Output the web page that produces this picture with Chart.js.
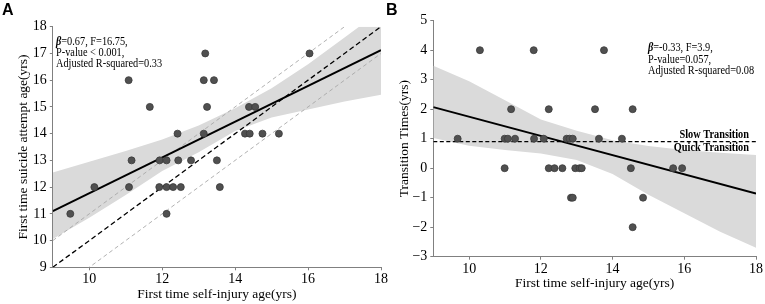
<!DOCTYPE html>
<html>
<head>
<meta charset="utf-8">
<script src="https://cdn.jsdelivr.net/npm/chart.js@4.4.0/dist/chart.umd.min.js"></script>
<style>
  body { margin: 0; background: #fff; width: 765px; height: 304px; overflow: hidden; position: relative; }
  canvas { position: absolute; top: 0; }
  #chartA { left: 0; }
  #chartB { left: 385px; }
</style>
</head>
<body>
<canvas id="chartA" width="390" height="304"></canvas>
<canvas id="chartB" width="380" height="304"></canvas>
<script>
// shared x ticks
const xTicks = [10, 12, 14, 16, 18];

// Panel A: first self-injury age vs first suicide attempt age
const injuryAgeA = [9.48, 10.14, 11.09, 11.08, 11.16, 11.66, 11.93, 11.92, 12.12, 12.12, 12.12, 12.3, 12.42, 12.44, 12.51,
                    12.79, 13.14, 13.14, 13.18, 13.23, 13.42, 13.5, 13.58, 14.27, 14.38, 14.4, 14.55, 14.75, 15.2, 16.04];
const attemptAgeA = [11, 12, 12, 16, 13, 15, 13, 12, 13, 12, 11, 12, 14, 13, 12,
                     13, 14, 16, 17, 15, 16, 13, 12, 14, 15, 14, 15, 14, 14, 17];
const fitXA = [9, 18];
const fitYA = [11.1, 17.12];
const refXA = [9, 18];
const refYA = [9, 18];       // y = x
const refUpperA = [10, 19];  // y = x + 1
const refLowerA = [8, 17];   // y = x - 1
const bandXA = [9, 10, 11, 12, 13, 14, 15, 16, 17, 18];
const bandUpperA = [12.55, 12.95, 13.35, 13.78, 14.3, 14.95, 15.7, 16.6, 17.6, 18.6];
const bandLowerA = [10.06, 10.85, 11.7, 12.6, 13.3, 14.1, 14.6, 14.9, 15.2, 15.45];
const yTicksA = [9, 10, 11, 12, 13, 14, 15, 16, 17, 18];

// Panel B: first self-injury age vs transition time
const injuryAgeB = [10.3, 11.8, 13.76,
                    11.17, 12.22, 13.51, 14.56,
                    9.68, 10.99, 11.08, 11.28, 11.81, 12.08, 12.72, 12.8, 12.89, 13.62, 14.26,
                    10.99, 12.22, 12.38, 12.6, 12.96, 13.08, 13.14, 14.51, 15.69, 15.94,
                    12.84, 12.89, 14.85,
                    14.56];
const transitionB = [4, 4, 4,
                     2, 2, 2, 2,
                     1, 1, 1, 1, 1, 1, 1, 1, 1, 1, 1,
                     0, 0, 0, 0, 0, 0, 0, 0, 0, 0,
                     -1, -1, -1,
                     -2];
const fitXB = [9, 18];
const fitYB = [2.07, -0.86];
const cutXB = [9, 18];
const cutYB = [0.9, 0.9];
const bandXB = [9, 10, 11, 12, 13, 14, 15, 16, 17, 18];
const bandUpperB = [3.47, 2.95, 2.3, 1.65, 1.27, 0.95, 0.75, 0.62, 0.52, 0.45];
const bandLowerB = [1.02, 0.76, 0.62, 0.5, 0.28, -0.2, -0.9, -1.53, -2.15, -2.7];
const yTicksB = [-3, -2, -1, 0, 1, 2, 3, 4, 5];

const SERIF = '"Liberation Serif", "Times New Roman", serif';
const zip = (xs, ys) => xs.map((x, i) => ({ x: x, y: ys[i] }));

function lineSet(xs, ys, color, width, dash) {
    return {
        type: 'line', data: zip(xs, ys), borderColor: color, borderWidth: width,
        borderDash: dash || [], pointRadius: 0, fill: false, tension: 0
    };
}

// draws text squeezed a bit horizontally, like the original figure
function squeezed(ctx, parts, x, y, align) {
    ctx.save();
    ctx.translate(x, y);
    ctx.scale(0.86, 1);
    ctx.textBaseline = 'middle';
    let total = 0;
    parts.forEach(p => { ctx.font = p.font; total += ctx.measureText(p.t).width; });
    let cx = align === 'right' ? -total : 0;
    parts.forEach(p => {
        ctx.font = p.font;
        ctx.textAlign = 'left';
        ctx.fillText(p.t, cx, 0);
        cx += ctx.measureText(p.t).width;
    });
    ctx.restore();
}

function makePanel(id, p) {
    const datasets = [
        { type: 'scatter', data: zip(p.px, p.py), pointRadius: 3.5, backgroundColor: '#505050',
          borderColor: '#3a3a3a', borderWidth: 0.8 },
        lineSet(p.fitX, p.fitY, '#000', 2)
    ].concat(p.extraLines).concat([
        Object.assign(lineSet(p.bandX, p.bandUpper, 'rgba(0,0,0,0)', 0), { fill: '+1', backgroundColor: '#dadada' }),
        lineSet(p.bandX, p.bandLower, 'rgba(0,0,0,0)', 0)
    ]);

    const labelPlugin = {
        id: 'labels' + id,
        afterDraw(chart) {
            const ctx = chart.ctx;
            ctx.save();
            ctx.fillStyle = '#000';
            ctx.font = 'bold 16px "Liberation Sans", Arial, sans-serif';
            ctx.textBaseline = 'alphabetic';
            ctx.fillText(p.tag, p.tagX, 15);
            p.notes(ctx);
            ctx.restore();
        }
    };

    return new Chart(document.getElementById(id), {
        type: 'scatter',
        data: { datasets: datasets },
        options: {
            responsive: false,
            animation: false,
            layout: { padding: { left: p.padLeft, top: p.padTop, right: 9, bottom: 0 } },
            plugins: { legend: { display: false }, tooltip: { enabled: false } },
            scales: {
                x: {
                    type: 'linear', min: 9, max: 18,
                    afterBuildTicks: s => { s.ticks = xTicks.map(v => ({ value: v })); },
                    afterFit: s => { s.height = p.xHeight; },
                    border: { display: true, color: '#808080', width: 1 },
                    grid: { drawOnChartArea: false, drawTicks: true, tickLength: 3, color: '#808080' },
                    ticks: { color: '#000', padding: 1, font: { family: SERIF, size: 14 } },
                    title: { display: true, text: 'First time self-injury age(yrs)', color: '#000',
                             font: { family: SERIF, size: 13.5 }, padding: { top: 0, bottom: p.xTitlePad } }
                },
                y: {
                    type: 'linear', min: p.yMin, max: p.yMax,
                    afterBuildTicks: s => { s.ticks = p.yTicks.map(v => ({ value: v })); },
                    afterFit: s => { s.width = p.yWidth; },
                    border: { display: true, color: '#808080', width: 1 },
                    grid: { drawOnChartArea: false, drawTicks: true, tickLength: 3, color: '#808080' },
                    ticks: { color: '#000', padding: 3, font: { family: SERIF, size: 14 },
                             callback: v => String(v).replace('-', '\u2212') },
                    title: { display: true, text: p.yTitle, color: '#000',
                             font: { family: SERIF, size: 13.5 }, padding: { top: 0, bottom: 0 } }
                }
            }
        },
        plugins: [labelPlugin]
    });
}

const noteFont = '12px ' + SERIF;
const betaFont = 'italic bold 12px ' + SERIF;

makePanel('chartA', {
    tag: 'A', tagX: 2,
    px: injuryAgeA, py: attemptAgeA,
    fitX: fitXA, fitY: fitYA,
    bandX: bandXA, bandUpper: bandUpperA, bandLower: bandLowerA,
    extraLines: [
        lineSet(refXA, refYA, '#000', 1.3, [5, 3]),
        lineSet(refXA, refUpperA, '#a8a8a8', 0.9, [4, 3]),
        lineSet(refXA, refLowerA, '#a8a8a8', 0.9, [4, 3])
    ],
    yMin: 9, yMax: 18, yTicks: yTicksA,
    yTitle: 'First time suicide attempt age(yrs)',
    padLeft: 14.9, padTop: 26.7, yWidth: 37.9, xHeight: 36.7, xTitlePad: 1.9,
    notes(ctx) {
        squeezed(ctx, [{ t: '\u03B2', font: betaFont }, { t: '=0.67, F=16.75,', font: noteFont }], 56, 41.7);
        squeezed(ctx, [{ t: 'P-value < 0.001,', font: noteFont }], 56, 53);
        squeezed(ctx, [{ t: 'Adjusted R-squared=0.33', font: noteFont }], 56, 64.3);
    }
});

makePanel('chartB', {
    tag: 'B', tagX: 1,
    px: injuryAgeB, py: transitionB,
    fitX: fitXB, fitY: fitYB,
    bandX: bandXB, bandUpper: bandUpperB, bandLower: bandLowerB,
    extraLines: [
        lineSet(cutXB, cutYB, '#000', 1.2, [4, 2.5])
    ],
    yMin: -3, yMax: 5, yTicks: yTicksB,
    yTitle: 'Transition Times(yrs)',
    padLeft: 10.9, padTop: 20.7, yWidth: 37.4, xHeight: 47.3, xTitlePad: 12.9,
    notes(ctx) {
        squeezed(ctx, [{ t: '\u03B2', font: betaFont }, { t: '=-0.33, F=3.9,', font: noteFont }], 263, 48);
        squeezed(ctx, [{ t: 'P-value=0.057,', font: noteFont }], 263, 59.5);
        squeezed(ctx, [{ t: 'Adjusted R-squared=0.08', font: noteFont }], 263, 71);
        const bold = 'bold 12px ' + SERIF;
        squeezed(ctx, [{ t: 'Slow Transition', font: bold }], 364, 135, 'right');
        squeezed(ctx, [{ t: 'Quick Transition', font: bold }], 364, 147.5, 'right');
    }
});
</script>
</body>
</html>
